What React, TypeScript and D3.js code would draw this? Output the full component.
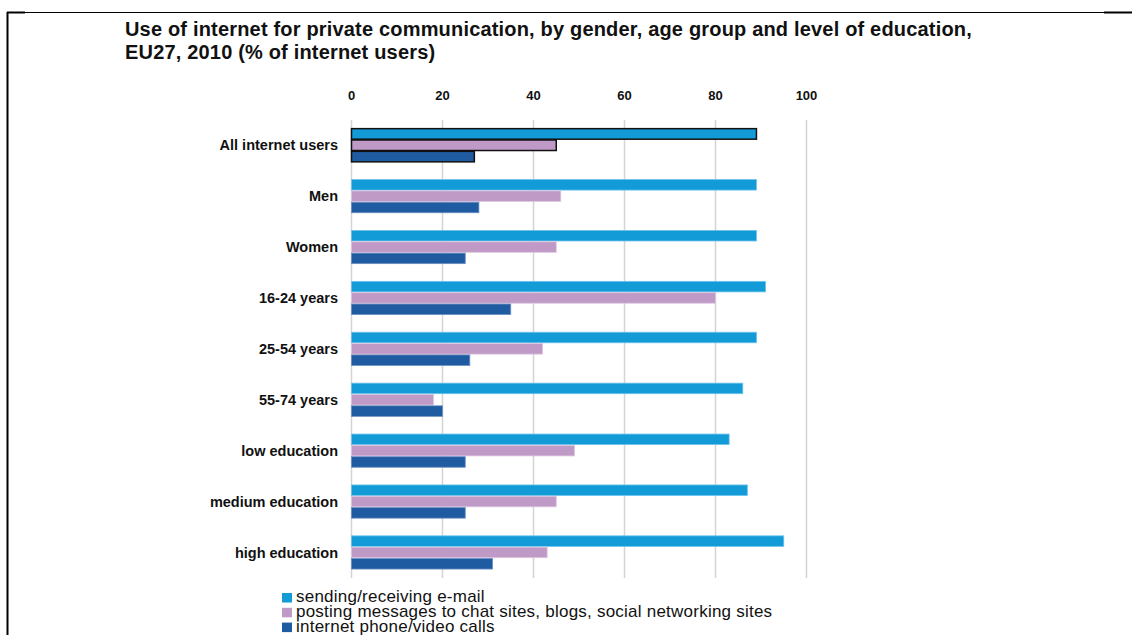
import React from "react";
import * as d3 from "d3";

const categories = [
  "All internet users",
  "Men",
  "Women",
  "16-24 years",
  "25-54 years",
  "55-74 years",
  "low education",
  "medium education",
  "high education",
];
const seriesNames = [
  "sending/receiving e-mail",
  "posting messages to chat sites, blogs, social networking sites",
  "internet phone/video calls",
];
const emailValues = [89, 89, 89, 91, 89, 86, 83, 87, 95];
const postingValues = [45, 46, 45, 80, 42, 18, 49, 45, 43];
const callsValues = [27, 28, 25, 35, 26, 20, 25, 25, 31];
const xTicks = [0, 20, 40, 60, 80, 100];
const titleLines = [
  "Use of internet for private communication, by gender, age group and level of education,",
  "EU27, 2010 (% of internet users)",
];

const colors = ["#139BD8", "#C09AC7", "#1F5BA1"];
const strokeColors = ["#6CC3EC", "#DCC6E0", "#6C8FC2"];

export default function App() {
  const W = 1132;
  const H = 635;
  const x = d3.scaleLinear().domain([0, 100]).range([351.5, 806.5]);
  const y = d3
    .scaleBand<string>()
    .domain(categories)
    .range([119.8, 577.9])
    .paddingInner(0.332)
    .paddingOuter(0.166);
  const allSeries = [emailValues, postingValues, callsValues];
  const ySub = d3
    .scaleBand<number>()
    .domain([0, 1, 2])
    .range([0, y.bandwidth()]);

  const font = "'Liberation Sans', Arial, Helvetica, sans-serif";

  return (
    <svg
      width={W}
      height={H}
      style={{ position: "absolute", left: 0, top: 0, background: "#fff" }}
      fontFamily={font}
    >
      {/* frame */}
      <line x1={7} y1={12.5} x2={1132} y2={12.5} stroke="#000" strokeWidth={1} />
      <line x1={7} y1={12.5} x2={25} y2={12.5} stroke="#000" strokeWidth={2} />
      <line x1={1104} y1={12.5} x2={1132} y2={12.5} stroke="#000" strokeWidth={2} />
      <line x1={7.5} y1={12} x2={7.5} y2={635} stroke="#000" strokeWidth={2} />

      {/* title */}
      {titleLines.map((t, i) => (
        <text
          key={i}
          x={125}
          y={36 + i * 23}
          fontSize={20}
          fontWeight="bold"
          letterSpacing={0.18}
          fill="#111"
        >
          {t}
        </text>
      ))}

      {/* gridlines */}
      {xTicks.map((t) => (
        <line
          key={t}
          x1={x(t)}
          x2={x(t)}
          y1={120}
          y2={578}
          stroke="#D4D4D4"
          strokeWidth={1.5}
        />
      ))}

      {/* tick labels */}
      {xTicks.map((t) => (
        <text
          key={"l" + t}
          x={x(t)}
          y={100}
          textAnchor="middle"
          fontSize={13}
          fontWeight="bold"
          fill="#111"
        >
          {t}
        </text>
      ))}

      {/* bars */}
      {categories.map((c, ci) => (
        <g key={c} transform={`translate(0,${y(c)})`}>
          {allSeries.map((vals, si) => (
            <rect
              key={si}
              x={x(0)}
              y={ySub(si)! + 0.4}
              width={x(vals[ci]) - x(0)}
              height={ySub.bandwidth() - 0.8}
              fill={colors[si]}
              stroke={ci === 0 ? "#111" : strokeColors[si]}
              strokeWidth={ci === 0 ? 1.5 : 0.8}
            />
          ))}
          <text
            x={338}
            y={y.bandwidth() / 2}
            dy="0.35em"
            textAnchor="end"
            fontSize={14.5}
            fontWeight="bold"
            fill="#111"
          >
            {c}
          </text>
        </g>
      ))}

      {/* legend */}
      {seriesNames.map((s, i) => (
        <g key={s} transform={`translate(0,${i * 14.8})`}>
          <rect x={282} y={593} width={10} height={9.5} fill={colors[i]} />
          <text x={296} y={602} fontSize={17} letterSpacing={0.23} fill="#111">
            {s}
          </text>
        </g>
      ))}
    </svg>
  );
}
